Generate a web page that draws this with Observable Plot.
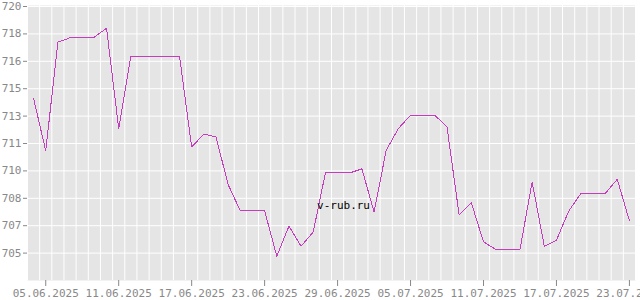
<!DOCTYPE html>
<html>
<head>
<meta charset="utf-8">
<script src="https://cdn.jsdelivr.net/npm/d3@7"></script>
<script src="https://cdn.jsdelivr.net/npm/@observablehq/plot@0.6"></script>
<style>
  html, body { margin: 0; padding: 0; background: #fff; }
  #chart { position: relative; width: 640px; height: 300px; }
  #chart svg { display: block; }
</style>
</head>
<body>
<div id="chart"></div>
<script>
// Daily rates, 04.06.2025 .. 23.07.2025
const dates = [
  "2025-06-04","2025-06-05","2025-06-06","2025-06-07","2025-06-08","2025-06-09","2025-06-10",
  "2025-06-11","2025-06-12","2025-06-13","2025-06-14","2025-06-15","2025-06-16","2025-06-17",
  "2025-06-18","2025-06-19","2025-06-20","2025-06-21","2025-06-22","2025-06-23","2025-06-24",
  "2025-06-25","2025-06-26","2025-06-27","2025-06-28","2025-06-29","2025-06-30","2025-07-01",
  "2025-07-02","2025-07-03","2025-07-04","2025-07-05","2025-07-06","2025-07-07","2025-07-08",
  "2025-07-09","2025-07-10","2025-07-11","2025-07-12","2025-07-13","2025-07-14","2025-07-15",
  "2025-07-16","2025-07-17","2025-07-18","2025-07-19","2025-07-20","2025-07-21","2025-07-22",
  "2025-07-23"
];
const values = [
  714.13, 711.02, 717.48, 717.74, 717.78, 717.78, 718.31,
  712.35, 716.65, 716.65, 716.65, 716.65, 716.65, 711.24,
  712.01, 711.84, 709.01, 707.44, 707.44, 707.44, 704.75,
  706.53, 705.34, 706.19, 709.70, 709.70, 709.70, 709.94,
  707.38, 711.05, 712.34, 713.13, 713.13, 713.13, 712.43,
  707.19, 707.92, 705.60, 705.15, 705.15, 705.15, 709.16,
  705.34, 705.70, 707.42, 708.47, 708.47, 708.47, 709.32,
  706.85
];
const yTicks = [719.60, 717.97, 716.34, 714.71, 713.08, 711.45, 709.82, 708.19, 706.56, 704.93];
const xTickDates = ["2025-06-05","2025-06-11","2025-06-17","2025-06-23","2025-06-29",
                    "2025-07-05","2025-07-11","2025-07-17","2025-07-23"];
const watermark = "v-rub.ru";

const parse = s => new Date(s + "T00:00:00Z");
const data = dates.map((d, i) => ({date: parse(d), value: values[i]}));
const xStart = d3.utcHour.offset(parse(dates[0]), -12);
const xEnd = d3.utcHour.offset(parse(dates[dates.length - 1]), 12);
const gridDates = d3.utcDay.range(parse(dates[0]), d3.utcDay.offset(parse(dates[dates.length - 1]), 1))
  .map(d => d3.utcHour.offset(d, -12)).concat([xEnd]);
const fmt = d3.utcFormat("%d.%m.%Y");

const font = "'DejaVu Sans Mono', 'Liberation Mono', monospace";
const chart = Plot.plot({
  width: 640,
  height: 300,
  marginLeft: 27,
  marginRight: 5,
  marginTop: 5,
  marginBottom: 20,
  style: {fontFamily: font, fontSize: "11px", color: "#888", background: "#fff"},
  x: {type: "utc", domain: [xStart, xEnd]},
  y: {domain: [703.30, 719.66]},
  marks: [
    Plot.frame({fill: "#e5e5e5", stroke: null}),
    Plot.gridY(yTicks, {stroke: "#fff", strokeOpacity: 1, strokeWidth: 1}),
    Plot.gridX(gridDates, {stroke: "#fff", strokeOpacity: 1, strokeWidth: 1}),
    Plot.axisY(yTicks, {tickSize: 4, tickPadding: 2, tickFormat: d3.format(".0f"), label: null, stroke: "#888", fill: "#888"}),
    Plot.axisX(xTickDates.map(parse), {tickSize: 6, tickPadding: 3, tickFormat: fmt, label: null, stroke: "#888", fill: "#888"}),
    Plot.line(data, {x: "date", y: "value", stroke: "#c23ebd", strokeWidth: 1, shapeRendering: "crispEdges"}),
    Plot.text([watermark], {frameAnchor: "middle", text: d => d, fill: "#000", fontSize: 11, dx: 12, dy: 62})
  ]
});
document.getElementById("chart").appendChild(chart);
</script>
</body>
</html>
